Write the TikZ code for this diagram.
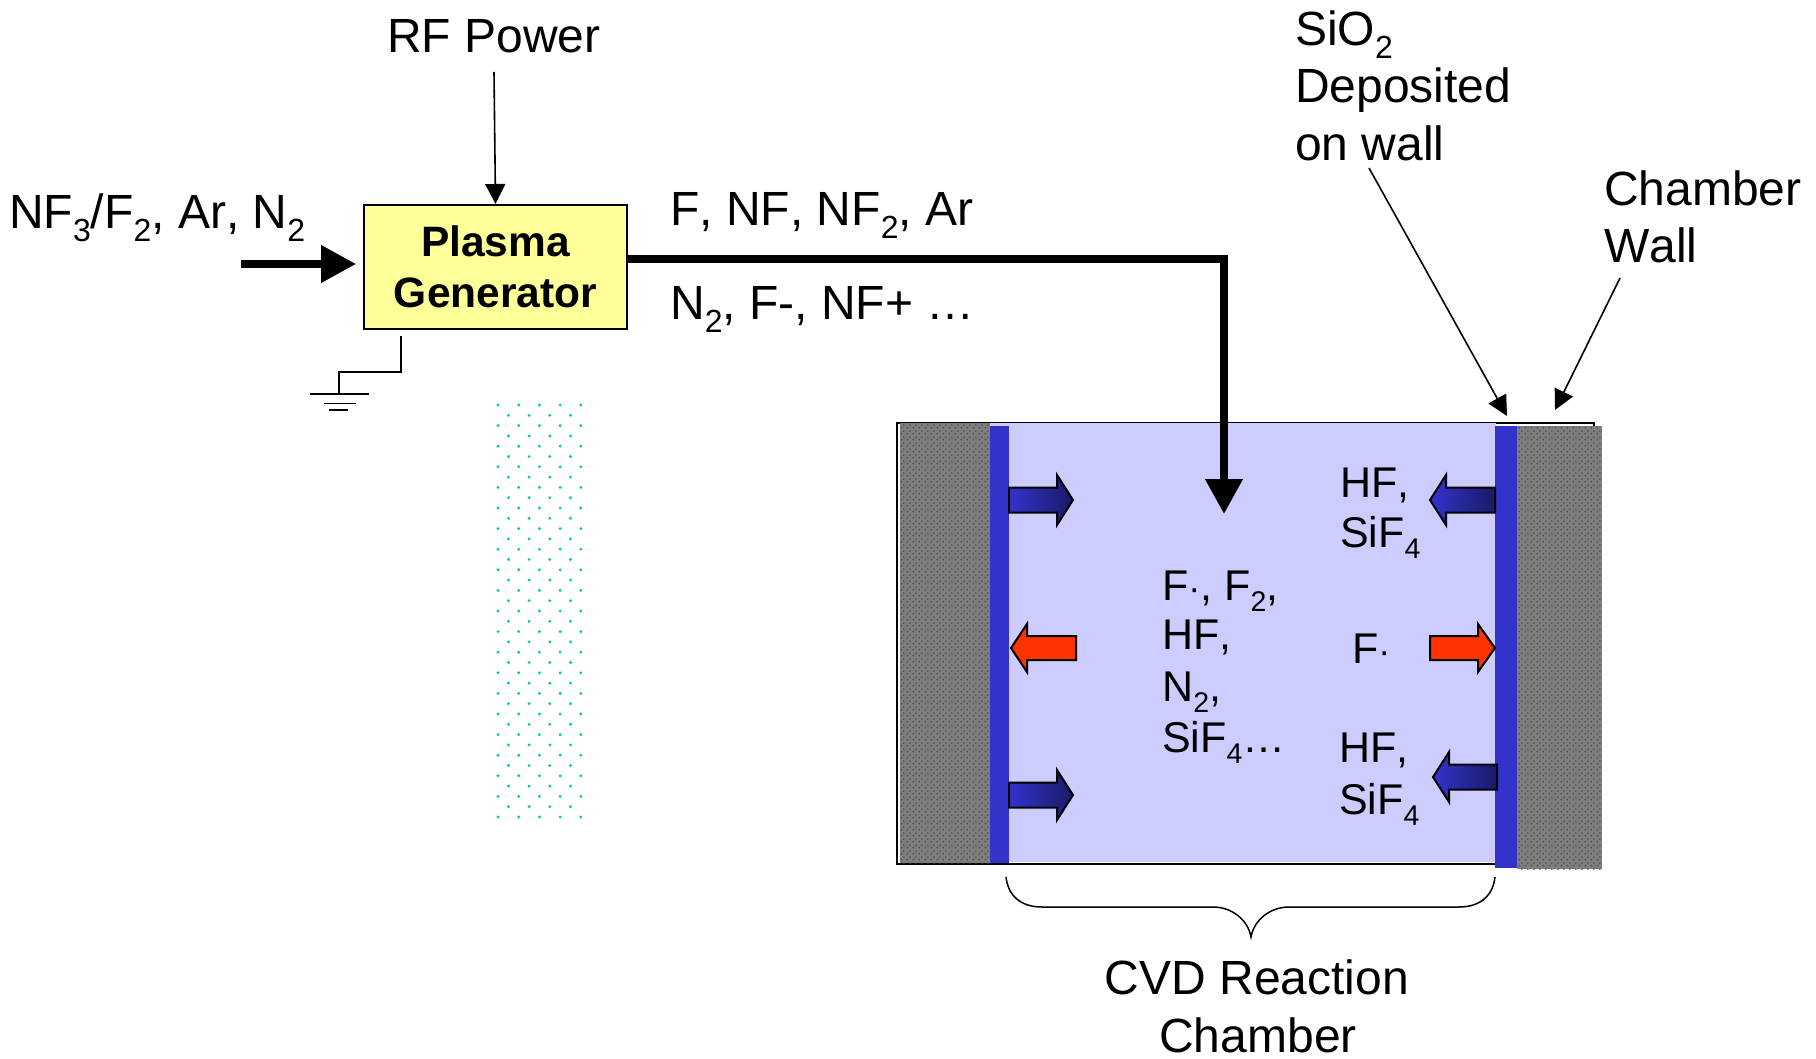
\documentclass[tikz,border=0pt]{standalone}
\usepackage{fontspec}
\setmainfont[Kerning=Off]{Liberation Sans}
\usetikzlibrary{arrows.meta,patterns,calc}
\pgfdeclarepatternformonly{walldots}{\pgfqpoint{0pt}{0pt}}{\pgfqpoint{6pt}{6pt}}{\pgfqpoint{6pt}{6pt}}{
  \pgfpathcircle{\pgfqpoint{1.5pt}{1.5pt}}{1.1pt}
  \pgfpathcircle{\pgfqpoint{4.5pt}{4.5pt}}{1.1pt}
  \pgfusepath{fill}}
\definecolor{wallbase}{RGB}{126,126,126}
\definecolor{walldot}{RGB}{76,76,76}
\definecolor{filmblue}{RGB}{51,51,204}
\definecolor{darkblue}{RGB}{26,26,102}
\definecolor{gasfill}{RGB}{204,204,255}
\definecolor{redarrow}{RGB}{255,51,0}
\definecolor{boxyellow}{RGB}{255,255,153}
\definecolor{dotgreen}{RGB}{0,204,153}
\newcommand{\lowered}[1]{\raisebox{-.27em}{\fontsize{32}{32}\selectfont #1}}
\newcommand{\lowin}[1]{\raisebox{-.27em}{\fontsize{28.5}{28.5}\selectfont #1}}
\newcommand{\tinydot}{{\fontsize{36}{36}\selectfont ·}}
\tikzset{
  x=1pt,y=-1pt,
  lbl/.style={inner sep=0pt,anchor=base west,font=\fontsize{48}{48}\selectfont,text=black},
  lblin/.style={inner sep=0pt,anchor=base west,font=\fontsize{43}{43}\selectfont,text=black},
  thinarrow/.style={draw=black,line width=1.6pt,-{Triangle[length=20pt,width=20pt]}},
  heavyarrow/.style={draw=black,line width=7.5pt,-{Triangle[length=35pt,width=36pt]}},
  wall/.style={pattern=walldots,pattern color=walldot},
  block/.style={draw=black,line width=2pt,line join=miter},
  groundline/.style={draw=black,line width=1.5pt},
}
\begin{document}
\begin{tikzpicture}
\useasboundingbox (0,0) rectangle (1816,1059);
% chamber
\node[draw=black,line width=1.6pt,fill=white,minimum width=697pt,minimum height=441pt,inner sep=0pt,anchor=north west] (chamber) at (896,422) {};
\fill[gasfill] (900,423) rectangle (1496,862);
\fill[wallbase] (900,423) rectangle (990,863);
\fill[wall] (900,423) rectangle (990,863);
\fill[wallbase] (1517,426) rectangle (1602,869);
\fill[wall] (1517,426) rectangle (1602,869);
\fill[filmblue] (990,426) rectangle (1009,863);
\fill[filmblue] (1495,426) rectangle (1517,868);
% block arrows
\path[block,left color=filmblue,right color=darkblue] (1009,487.5) -- (1057,487.5) -- (1057,475) -- (1073,500) -- (1057,525) -- (1057,512.5) -- (1009,512.5) -- cycle;
\path[block,left color=filmblue,right color=darkblue] (1009,782.5) -- (1057,782.5) -- (1057,770) -- (1073,795) -- (1057,820) -- (1057,807.5) -- (1009,807.5) -- cycle;
\path[block,left color=filmblue,right color=darkblue] (1495,487.5) -- (1446,487.5) -- (1446,475) -- (1430,500) -- (1446,525) -- (1446,512.5) -- (1495,512.5) -- cycle;
\path[block,left color=filmblue,right color=darkblue] (1497,764.5) -- (1449,764.5) -- (1449,752) -- (1433,777) -- (1449,802) -- (1449,789.5) -- (1497,789.5) -- cycle;
\path[block,fill=redarrow] (1076,636) -- (1027,636) -- (1027,624) -- (1011,648) -- (1027,672) -- (1027,660) -- (1076,660) -- cycle;
\path[block,fill=redarrow] (1430,636) -- (1478,636) -- (1478,624) -- (1495,648) -- (1478,672) -- (1478,660) -- (1430,660) -- cycle;
% dotted column
\foreach \r in {0,...,40}{
  \pgfmathtruncatemacro{\odd}{mod(\r,2)}
  \ifnum\odd=0
    \foreach \c in {0,...,4}{\fill[dotgreen] ({498+20.7*\c},{405+10.3*\r}) circle (1.6pt);}
  \else
    \foreach \c in {0,...,3}{\fill[dotgreen] ({508.4+20.7*\c},{405+10.3*\r}) circle (1.6pt);}
  \fi
}
% plasma generator
\node[draw=black,line width=2pt,fill=boxyellow,minimum width=263pt,minimum height=124pt,inner sep=0pt,align=center,anchor=north west,font=\fontsize{42.5}{51}\selectfont\bfseries] (plasma) at (363,204) {Plasma\\Generator};
% labels
\node[lbl] (rf) at (387,53) {RF Power};
\node[lbl] (feed) at (9,229) {NF\lowered{3}/F\lowered{2}, Ar, N\lowered{2}};
\node[lbl] (outa) at (670,226) {F, NF, NF\lowered{2}, Ar};
\node[lbl] (outb) at (670,320) {N\lowered{2}, F-, NF+ …};
\node[lbl] (sioa) at (1295,46) {SiO\lowered{2}};
\node[lbl] (siob) at (1295,103) {Deposited};
\node[lbl] (sioc) at (1295,161) {on wall};
\node[lbl] (wla) at (1604,206) {Chamber};
\node[lbl] (wlb) at (1604,263) {Wall};
\node[lblin] (hfa) at (1340,497) {HF,};
\node[lblin] (hfb) at (1340,547) {SiF\lowin{4}};
\node[lblin] (mida) at (1162,600) {F\tinydot, F\lowin{2},};
\node[lblin] (midb) at (1162,649) {HF,};
\node[lblin] (midc) at (1162,701) {N\lowin{2},};
\node[lblin] (midd) at (1162,752) {SiF\lowin{4}…};
\node[lblin] (fdot) at (1352,663) {F\tinydot};
\node[lblin] (hfc) at (1339,762) {HF,};
\node[lblin] (hfd) at (1339,814) {SiF\lowin{4}};
\node[lbl,anchor=base] (cvda) at (1257,994) {CVD Reaction};
\node[lbl,anchor=base] (cvdb) at (1258,1052) {Chamber};
% connectors
\coordinate (feedstart) at (241,264);
\coordinate (rfend) at (494,72);
\coordinate (bend) at (1224,259);
\coordinate (gasend) at (1224,514);
\coordinate (sioend) at (1507,416);
\coordinate (siostart) at (1369,168);
\coordinate (wlstart) at (1620,278);
\coordinate (wlend) at (1555,410);
\coordinate (gndtop) at (401,336);
\coordinate (gndbot) at (339,394);
\draw[heavyarrow,shorten >=7pt] (feedstart) -- (plasma.west |- feedstart);
\draw[thinarrow] (rfend) -- (plasma.north);
\draw[heavyarrow,line join=miter] (plasma.east |- bend) -- (bend) -- (gasend);
\draw[thinarrow] (siostart) -- (sioend);
\draw[thinarrow] (wlstart) -- (wlend);
\draw[groundline] (gndtop) |- (gndbot |- 0,372) -- (gndbot);
\draw[groundline] (310,394) -- (369,394);
\draw[groundline] (324,403.5) -- (356,403.5);
\draw[groundline] (329,410) -- (348,410);
% brace
\draw[black,line width=1.5pt] (1006,877) .. controls (1008,895) and (1020,907) .. (1042,907) -- (1213,907) .. controls (1232,907) and (1248,920) .. (1251,937) .. controls (1254,920) and (1270,907) .. (1289,907) -- (1459,907) .. controls (1481,907) and (1493,895) .. (1495,877);
\end{tikzpicture}
\end{document}
